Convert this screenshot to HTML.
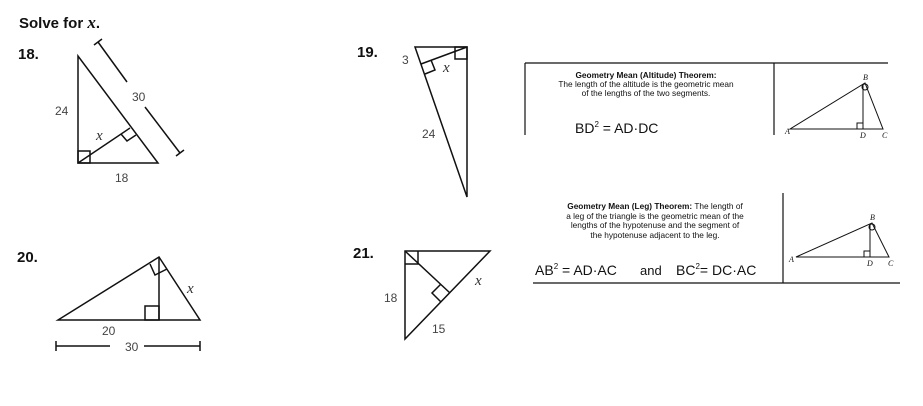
<!DOCTYPE html>
<html><head><meta charset="utf-8"><style>
html,body{margin:0;padding:0;background:#fff;}
svg{display:block;}
.s{font-family:"Liberation Sans",sans-serif;}
.i{font-family:"Liberation Serif",serif;font-style:italic;}
.h{font-family:"Liberation Sans",sans-serif;font-weight:normal;}
</style></head><body>
<svg width="923" height="406" viewBox="0 0 923 406" xmlns="http://www.w3.org/2000/svg">
<g fill="#111" class="s">
<text x="19" y="28" font-size="15" font-weight="bold">Solve for <tspan class="i" font-size="17">x</tspan>.</text>
<text x="18" y="59" font-size="15" font-weight="bold">18.</text>
<text x="357" y="57" font-size="15" font-weight="bold">19.</text>
<text x="17" y="262" font-size="15" font-weight="bold">20.</text>
<text x="353" y="258" font-size="15" font-weight="bold">21.</text>
</g>
<g stroke="#111" stroke-width="1.5" fill="none">
<polygon points="78,56 78,163 158,163"/>
<line x1="78" y1="163" x2="130" y2="128"/>
<rect x="78" y="151" width="12" height="12"/>
<polyline points="121,134 127,141 136,135"/>
<line x1="98" y1="42" x2="127" y2="82"/>
<line x1="145" y1="107" x2="180" y2="153"/>
<line x1="94" y1="45" x2="102" y2="39"/>
<line x1="176" y1="156" x2="184" y2="150"/>
<polygon points="415,47 467,47 467,197"/>
<line x1="467" y1="47" x2="421" y2="64"/>
<rect x="455" y="47" width="12" height="12"/>
<polyline points="425,74 435,70 431,60"/>
<polygon points="58,320 159,257 200,320"/>
<line x1="159" y1="257" x2="159" y2="320"/>
<rect x="145" y="306" width="14" height="14"/>
<polyline points="150,264 155,275 167,269"/>
<line x1="56" y1="346" x2="110" y2="346"/>
<line x1="144" y1="346" x2="200" y2="346"/>
<line x1="56" y1="341" x2="56" y2="351"/>
<line x1="200" y1="341" x2="200" y2="351"/>
<polygon points="405,251 490,251 405,339"/>
<line x1="405" y1="251" x2="450" y2="293"/>
<polyline points="405,264 418,264 418,251"/>
<polyline points="441,284 432,293 441,302"/>
<line x1="525" y1="63" x2="888" y2="63" stroke-width="1.2"/>
<line x1="525" y1="63" x2="525" y2="135" stroke-width="1.2"/>
<line x1="774" y1="63" x2="774" y2="135" stroke-width="1.2"/>
<line x1="533" y1="283" x2="900" y2="283" stroke-width="1.2"/>
<line x1="783" y1="193" x2="783" y2="283" stroke-width="1.2"/>
<g stroke-width="1">
<polygon points="790,129 865,83 883,129"/>
<line x1="863" y1="84" x2="863" y2="129"/>
<rect x="857" y="123" width="6" height="6"/>
<circle cx="865" cy="87" r="3"/>
<polygon points="796,257 872,223 889,257"/>
<line x1="870" y1="224" x2="870" y2="257"/>
<rect x="864" y="251" width="6" height="6"/>
<circle cx="872" cy="227" r="3"/>
</g>
</g>
<g fill="#444" font-size="12" class="s">
<text x="55" y="115">24</text>
<text x="132" y="101">30</text>
<text x="115" y="182">18</text>
<text x="402" y="64">3</text>
<text x="422" y="138">24</text>
<text x="102" y="335">20</text>
<text x="125" y="351">30</text>
<text x="384" y="302">18</text>
<text x="432" y="333">15</text>
</g>
<g fill="#333" font-size="15" class="i">
<text x="96" y="140">x</text>
<text x="443" y="72">x</text>
<text x="187" y="293">x</text>
<text x="475" y="285">x</text>
</g>
<g fill="#111" font-size="8.3" text-anchor="middle" class="s">
<text x="646" y="78" font-weight="bold">Geometry Mean (Altitude) Theorem:</text>
<text x="646" y="87">The length of the altitude is the geometric mean</text>
<text x="646" y="96">of the lengths of the two segments.</text>
<text x="655" y="209"><tspan font-weight="bold">Geometry Mean (Leg) Theorem:</tspan> The length of</text>
<text x="655" y="219">a leg of the triangle is the geometric mean of the</text>
<text x="655" y="228">lengths of the hypotenuse and the segment of</text>
<text x="655" y="238">the hypotenuse adjacent to the leg.</text>
</g>
<g fill="#111" font-size="8" class="i">
<text x="863" y="80">B</text><text x="785" y="134">A</text><text x="860" y="138">D</text><text x="882" y="138">C</text>
<text x="870" y="220">B</text><text x="789" y="262">A</text><text x="867" y="266">D</text><text x="888" y="266">C</text>
</g>
<g fill="#111" font-size="14" class="h">
<text x="575" y="133">BD<tspan font-size="8" dy="-6">2</tspan><tspan dy="6"> = AD·DC</tspan></text>
<text x="535" y="275">AB<tspan font-size="8" dy="-6">2</tspan><tspan dy="6"> = AD·AC</tspan></text>
<text x="640" y="275" font-size="13">and</text>
<text x="676" y="275">BC<tspan font-size="8" dy="-6">2</tspan><tspan dy="6">= DC·AC</tspan></text>
</g>
</svg>
</body></html>
